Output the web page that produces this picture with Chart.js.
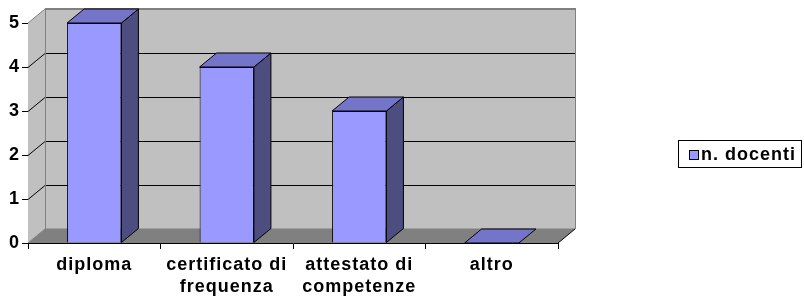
<!DOCTYPE html>
<html>
<head>
<meta charset="utf-8">
<script src="https://cdn.jsdelivr.net/npm/chart.js@4"></script>
<style>
  html, body { margin: 0; padding: 0; background: #fff; }
  #wrap { width: 804px; height: 300px; position: relative; }
</style>
</head>
<body>
<div id="wrap"><canvas id="chart"></canvas></div>
<script>
  const categories = ["diploma", ["certificato di", "frequenza"], ["attestato di", "competenze"], "altro"];
  const seriesLabel = "n. docenti";
  const values = [5, 4, 3, 0];
  const yTicks = [0, 1, 2, 3, 4, 5];

  // depth of the fake 3d box
  const DX = 17;
  const DY = 14;

  const colors = {
    front: "#9999FF",
    top: "#7474C8",
    side: "#4D4D80",
    wall: "#C0C0C0",
    floor: "#808080",
    edge: "#808080",
  };

  Chart.defaults.font.family = "'Liberation Sans', Arial, sans-serif";
  Chart.defaults.font.weight = "bold";
  Chart.defaults.font.size = 18;
  Chart.defaults.color = "#000";

  const box3d = {
    id: "box3d",
    beforeDraw(chart) {
      chart.ctx.letterSpacing = "1px";
    },
    beforeDatasetsDraw(chart) {
      const { ctx, chartArea: a, scales } = chart;
      const y = scales.y;
      ctx.save();
      // left wall
      ctx.fillStyle = colors.wall;
      ctx.beginPath();
      ctx.moveTo(a.left, a.bottom);
      ctx.lineTo(a.left, a.top);
      ctx.lineTo(a.left + DX, a.top - DY);
      ctx.lineTo(a.left + DX, a.bottom - DY);
      ctx.closePath();
      ctx.fill();
      // back wall
      ctx.fillRect(a.left + DX, a.top - DY, a.right - a.left, a.bottom - a.top);
      // floor
      ctx.fillStyle = colors.floor;
      ctx.beginPath();
      ctx.moveTo(a.left, a.bottom);
      ctx.lineTo(a.right, a.bottom);
      ctx.lineTo(a.right + DX, a.bottom - DY);
      ctx.lineTo(a.left + DX, a.bottom - DY);
      ctx.closePath();
      ctx.fill();

      // gridlines on the walls
      ctx.strokeStyle = "#000";
      ctx.lineWidth = 1;
      yTicks.forEach(v => {
        if (v === 0 || v === yTicks[yTicks.length - 1]) return;
        const py = Math.round(y.getPixelForValue(v)) + 0.5;
        ctx.beginPath();
        ctx.moveTo(a.left, py);
        ctx.lineTo(a.left + DX, py - DY);
        ctx.lineTo(a.right + DX, py - DY);
        ctx.stroke();
      });

      // wall edges
      ctx.strokeStyle = colors.edge;
      ctx.beginPath();
      ctx.moveTo(a.left, a.top);
      ctx.lineTo(a.left + DX, a.top - DY);
      ctx.moveTo(a.left, a.bottom);
      ctx.lineTo(a.left + DX, a.bottom - DY);
      ctx.moveTo(a.left + DX + 0.5, a.top - DY);
      ctx.lineTo(a.left + DX + 0.5, a.bottom - DY);
      ctx.lineTo(a.right + DX, a.bottom - DY);
      ctx.moveTo(a.right + DX + 0.5, a.top - DY);
      ctx.lineTo(a.right + DX + 0.5, a.bottom - DY);
      ctx.stroke();
      ctx.lineWidth = 2;
      ctx.beginPath();
      ctx.moveTo(a.left + DX, a.top - DY);
      ctx.lineTo(a.right + DX + 1, a.top - DY);
      ctx.stroke();
      ctx.strokeStyle = "#000";
      ctx.lineWidth = 1;
      ctx.beginPath();
      ctx.moveTo(a.right, a.bottom);
      ctx.lineTo(a.right + DX, a.bottom - DY);
      ctx.stroke();
      ctx.restore();
    },
    afterDatasetsDraw(chart) {
      const { ctx } = chart;
      const meta = chart.getDatasetMeta(0);
      ctx.save();
      ctx.strokeStyle = "#000";
      ctx.lineWidth = 1;
      ctx.lineJoin = "round";
      meta.data.forEach(bar => {
        const { x, y, base, width } = bar.getProps(["x", "y", "base", "width"], true);
        const l = x - width / 2;
        const r = x + width / 2;
        // side face
        if (base - y > 0.5) {
          ctx.fillStyle = colors.side;
          ctx.beginPath();
          ctx.moveTo(r, y);
          ctx.lineTo(r + DX, y - DY);
          ctx.lineTo(r + DX, base - DY);
          ctx.lineTo(r, base);
          ctx.closePath();
          ctx.fill();
          ctx.stroke();
        }
        // top face
        ctx.fillStyle = colors.top;
        ctx.beginPath();
        ctx.moveTo(l, y);
        ctx.lineTo(l + DX, y - DY);
        ctx.lineTo(r + DX, y - DY);
        ctx.lineTo(r, y);
        ctx.closePath();
        ctx.fill();
        ctx.stroke();
      });
      ctx.restore();
    },
    afterDraw(chart) {
      // legend box
      const { ctx } = chart;
      ctx.save();
      ctx.strokeStyle = "#000";
      ctx.lineWidth = 1;
      ctx.strokeRect(678.5, 140.5, 123, 27);
      ctx.fillStyle = colors.front;
      ctx.fillRect(689.5, 150.5, 9, 9);
      ctx.strokeRect(689.5, 150.5, 9, 9);
      ctx.fillStyle = "#000";
      ctx.font = "bold 18px 'Liberation Sans', Arial, sans-serif";
      ctx.letterSpacing = "1px";
      ctx.textBaseline = "middle";
      ctx.textAlign = "left";
      ctx.fillText(chart.data.datasets[0].label, 701, 155);
      ctx.restore();
    },
  };

  new Chart(document.getElementById("chart"), {
    type: "bar",
    data: {
      labels: categories,
      datasets: [
        {
          label: seriesLabel,
          data: values,
          backgroundColor: colors.front,
          borderColor: "#000",
          borderWidth: 1,
          categoryPercentage: 1,
          barPercentage: 0.41,
        },
      ],
    },
    options: {
      responsive: true,
      maintainAspectRatio: false,
      animation: false,
      layout: { padding: { left: 0, top: 23, right: 246, bottom: 0 } },
      plugins: {
        legend: { display: false },
        tooltip: { enabled: false },
      },
      scales: {
        x: {
          afterFit: s => { s.height = 57; },
          grid: { offset: true, drawOnChartArea: false, tickLength: 6, color: "#000" },
          border: { display: true, color: "#000" },
          ticks: { maxRotation: 0, autoSkip: false, padding: 5, font: { size: 18, lineHeight: 1.22 } },
        },
        y: {
          min: 0,
          max: 5,
          afterFit: s => { s.width = 28; },
          afterBuildTicks: s => { s.ticks = yTicks.map(v => ({ value: v })); },
          grid: { drawOnChartArea: false, tickLength: 6, color: "#000" },
          border: { display: true, color: "#000" },
          ticks: { padding: 2, font: { size: 18 } },
        },
      },
    },
    plugins: [box3d],
  });
</script>
</body>
</html>
